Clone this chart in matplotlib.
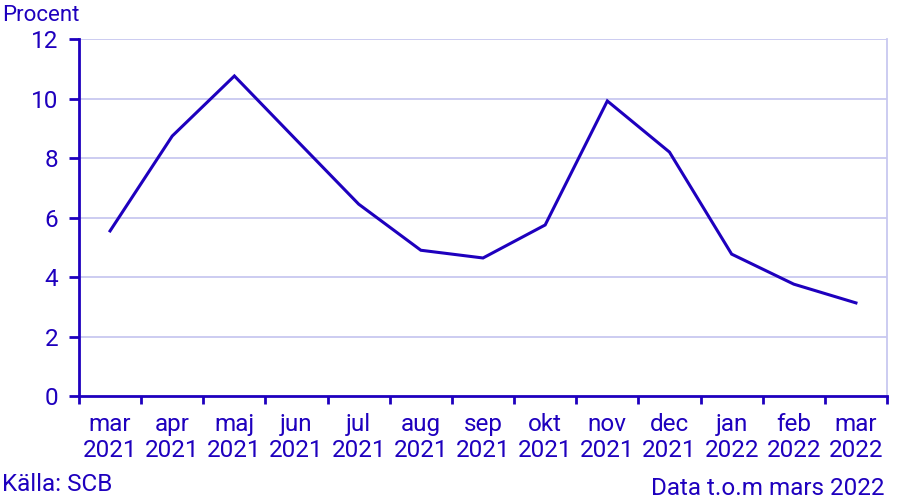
import matplotlib
matplotlib.use("Agg")
import matplotlib.pyplot as plt
import numpy as np

plt.rcParams['font.family'] = ['Roboto', 'DejaVu Sans']

months = ["mar\n2021", "apr\n2021", "maj\n2021", "jun\n2021", "jul\n2021", "aug\n2021",
          "sep\n2021", "okt\n2021", "nov\n2021", "dec\n2021", "jan\n2022", "feb\n2022", "mar\n2022"]
values = [5.55, 8.74, 10.76, 8.6, 6.45, 4.9, 4.64, 5.75, 9.92, 8.2, 4.77, 3.76, 3.13]
yticks = [0, 2, 4, 6, 8, 10, 12]

C = "#1e00be"
GRID = "#c8c8f0"
FS = 17.5

fig = plt.figure(figsize=(9.08, 5.01), dpi=100)
ax = fig.add_axes([0.087, 0.2096, 0.8899, 0.7124])

x = np.arange(len(months))
ax.plot(x, values, color=C, lw=2.2, solid_joinstyle='miter')

ax.set_xlim(-0.5, len(months) - 0.5)
ax.set_ylim(0, 12)
ax.set_yticks(yticks)
ax.set_yticklabels([str(t) for t in yticks])
ax.set_xticks(x)
ax.set_xticklabels(months, linespacing=1.2)
ax.set_xticks(np.arange(-0.5, len(months)), minor=True)

ax.tick_params(axis='x', which='major', length=0, pad=12, labelsize=FS, labelcolor=C)
ax.tick_params(axis='x', which='minor', length=6, width=2, color=C, direction='out')
ax.tick_params(axis='y', length=7, width=2, color=C, labelsize=FS, labelcolor=C, pad=8)

for y in yticks[1:]:
    ax.axhline(y, color=GRID, lw=1.3, zorder=0)

ax.spines['top'].set_visible(False)
ax.spines['right'].set_color(GRID)
ax.spines['right'].set_linewidth(1.3)
ax.spines['left'].set_color(C)
ax.spines['left'].set_linewidth(2)
ax.spines['bottom'].set_color(C)
ax.spines['bottom'].set_linewidth(2)

fig.text(0.002, 0.958, "Procent", color=C, fontsize=16, ha='left', va='baseline')
fig.text(0.002, 0.02, "Källa: SCB", color=C, fontsize=FS, ha='left', va='baseline')
fig.text(0.974, 0.012, "Data t.o.m mars 2022", color=C, fontsize=FS, ha='right', va='baseline')

fig.savefig("out.png", dpi=100)
